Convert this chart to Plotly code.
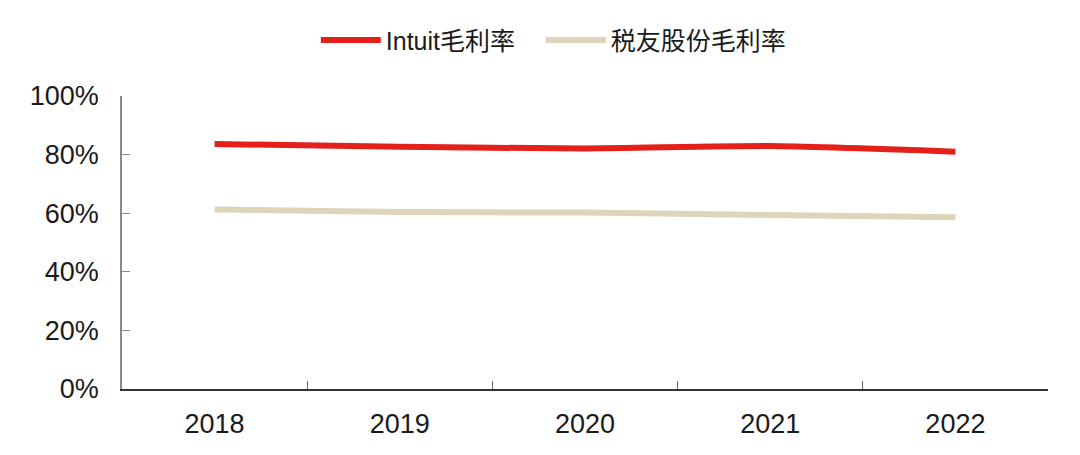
import plotly.graph_objects as go

years = ["2018", "2019", "2020", "2021", "2022"]
intuit_margin = [83.6, 82.7, 82.1, 82.9, 81.0]
baiwang_margin = [61.3, 60.4, 60.2, 59.4, 58.6]
y_ticks = [0, 20, 40, 60, 80, 100]
y_labels = ["0%", "20%", "40%", "60%", "80%", "100%"]

font_family = "Liberation Sans, Arial, Noto Sans CJK SC, sans-serif"

fig = go.Figure()
fig.add_trace(go.Scatter(
    x=years, y=intuit_margin, mode="lines", name="Intuit毛利率", legend="legend",
    line=dict(color="#E3201B", width=6, shape="spline", smoothing=0.6),
))
fig.add_trace(go.Scatter(
    x=years, y=baiwang_margin, mode="lines", name="税友股份毛利率", legend="legend2",
    line=dict(color="#DDD4BC", width=6, shape="spline", smoothing=0.6),
))

legend_common = dict(orientation="h", xanchor="left", y=1.19, yanchor="middle",
                     font=dict(size=25), itemwidth=60, bgcolor="rgba(0,0,0,0)")

fig.update_layout(
    width=1080, height=455,
    paper_bgcolor="white", plot_bgcolor="white",
    margin=dict(l=114, r=40, t=88, b=74, autoexpand=False),
    font=dict(family=font_family, size=24, color="#1a1a1a"),
    showlegend=True,
    legend=dict(x=0.2093, **legend_common),
    legend2=dict(x=0.4523, **legend_common),
    xaxis=dict(
        type="category", range=[-0.5, 4.5], showline=True, linecolor="#333333", linewidth=1.5,
        ticks="inside", tickson="boundaries", ticklen=8, tickcolor="#666666",
        showgrid=False, tickfont=dict(size=27), ticklabelstandoff=10, automargin=False,
    ),
    yaxis=dict(
        range=[0, 100], tickvals=y_ticks, ticktext=y_labels, showline=True,
        linecolor="#888888", linewidth=1.5, ticks="inside", ticklen=8, tickcolor="#888888",
        showgrid=False, zeroline=False, tickfont=dict(size=27), ticklabelstandoff=16,
        automargin=False,
    ),
)

fig.write_html("out.html")
